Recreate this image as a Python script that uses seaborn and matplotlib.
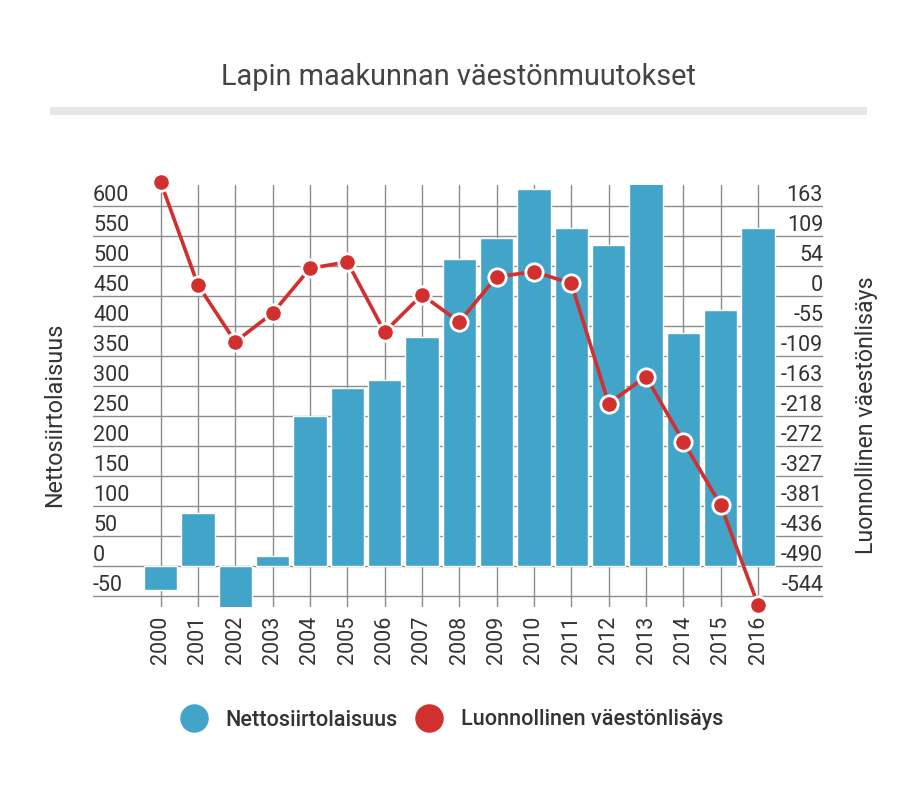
import matplotlib.pyplot as plt
import matplotlib.patches as mpatches
from matplotlib.lines import Line2D
import numpy as np
import pandas as pd
import seaborn as sns

# data
years = [str(y) for y in range(2000, 2017)]
netto = [-40, 88, -70, 17, 250, 296, 310, 382, 512, 546, 629, 563, 535, 645, 388, 427, 563]
luonnollinen = [207, 20, -83, -31, 50, 62, -65, 2, -47, 35, 44, 23, -195, -146, -264, -379, -560]
left_ticks = [-50, 0, 50, 100, 150, 200, 250, 300, 350, 400, 450, 500, 550, 600]
right_ticks = [-544, -490, -436, -381, -327, -272, -218, -163, -109, -55, 0, 54, 109, 163]

blue = "#42a4c9"
red = "#d2302f"
text_col = "#333333"
grid_col = "#8c8c8c"

sns.set_style("white")
plt.rcParams['font.family'] = ['Roboto', 'DejaVu Sans']

df = pd.DataFrame({"vuosi": years, "netto": netto, "luonn": luonnollinen})
df["pos"] = np.arange(len(df))

fig = plt.figure(figsize=(9.17, 7.87), dpi=100)
ax = fig.add_axes([93 / 917, 1 - 607 / 787, 730 / 917, 422 / 787])

sns.barplot(data=df, x="vuosi", y="netto", color=blue, width=0.89, saturation=1,
            ax=ax, zorder=2)
ax.set_xlim(-1.81, 17.74)
ax.set_ylim(-68.3, 635)
ax.set_yticks(left_ticks)
ax.set_yticklabels([str(t) for t in left_ticks])
ax.grid(True, color=grid_col, linewidth=1.0, zorder=0)
ax.set_axisbelow(True)
for s in ax.spines.values():
    s.set_visible(False)
ax.tick_params(axis="y", length=0, pad=0, labelsize=15.5, labelcolor=text_col)
ax.tick_params(axis="x", length=0, pad=6, labelsize=15.5, labelcolor=text_col, labelrotation=90)
for lab in ax.get_yticklabels():
    lab.set_horizontalalignment("left")
    lab.set_verticalalignment("bottom")
ax.set_xlabel("")
ax.set_ylabel("Nettosiirtolaisuus", fontsize=16.8, color=text_col)
ax.yaxis.set_label_coords(-0.037, 0.455)

# second axis: 0 on the right matches 450 on the left
f = 544 / 500
ax2 = ax.twinx()
ax2.set_ylim((-68.3 - 450) * f, (635 - 450) * f)
sns.lineplot(x=df["pos"], y=df["luonn"], ax=ax2, color=red, linewidth=2.6,
             marker="o", markersize=12.5, markerfacecolor=red, markeredgecolor="white",
             markeredgewidth=2, clip_on=False)
ax2.set_yticks(right_ticks)
ax2.set_yticklabels([str(t) for t in right_ticks])
ax2.tick_params(axis="y", length=0, pad=0, labelsize=15.5, labelcolor=text_col)
for lab in ax2.get_yticklabels():
    lab.set_horizontalalignment("right")
    lab.set_verticalalignment("bottom")
for s in ax2.spines.values():
    s.set_visible(False)
ax2.grid(False)
ax2.set_xlabel("")
ax2.set_ylabel("Luonnollinen väestönlisäys", fontsize=16.7, color=text_col, rotation=90)
ax2.yaxis.set_label_coords(1.044, 0.455)
ax.set_xlim(-1.81, 17.74)

# title and rule under it
fig.text(0.5, 1 - 85 / 787, "Lapin maakunnan väestönmuutokset", ha="center", va="baseline",
         fontsize=20.8, fontweight="normal", color="#444444")
fig.add_artist(mpatches.Rectangle((50 / 917, 1 - 115 / 787), 817 / 917, 8 / 787,
                                  transform=fig.transFigure, color="#e6e6e6", lw=0))

handles = [Line2D([], [], linestyle="none", marker="o", markersize=19.5, color=blue),
           Line2D([], [], linestyle="none", marker="o", markersize=19.5, color=red)]
fig.legend(handles, ["Nettosiirtolaisuus", "Luonnollinen väestönlisäys"], loc="center",
           bbox_to_anchor=(452 / 917, 1 - 720 / 787), ncol=2, frameon=False,
           handlelength=1.2, handletextpad=0.85, columnspacing=0.85,
           prop={"size": 15.6, "weight": "medium"}, labelcolor=text_col)

fig.savefig("out.png", dpi=100)
